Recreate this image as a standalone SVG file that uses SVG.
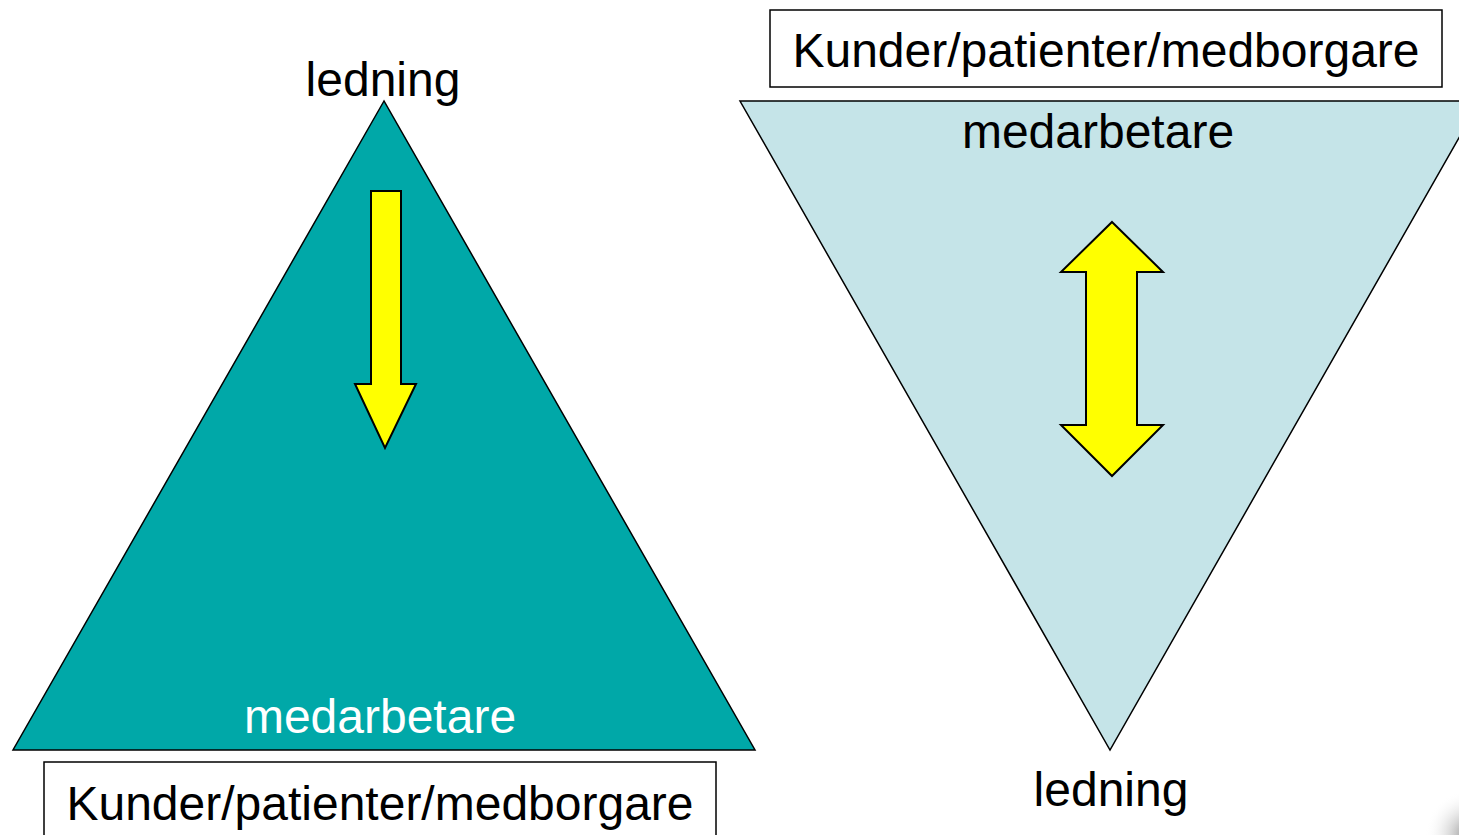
<svg xmlns="http://www.w3.org/2000/svg" width="1459" height="835" viewBox="0 0 1459 835">
<defs>
<style>
.lbl{font-family:"Liberation Sans",Arial,sans-serif;font-size:48px;text-anchor:middle;fill:#000}
.box{fill:#fff;stroke:#000;stroke-width:1.5}
.arrow{fill:#ffff00;stroke:#000;stroke-width:2;stroke-linejoin:miter}
</style>
<radialGradient id="curl" cx="1470" cy="835" r="45" gradientUnits="userSpaceOnUse">
<stop offset="0" stop-color="#888"/>
<stop offset="1" stop-color="#fff" stop-opacity="0"/>
</radialGradient>
</defs>
<rect width="1459" height="835" fill="#fff"/>
<rect x="1410" y="770" width="49" height="65" fill="url(#curl)"/>
<g id="left-pyramid">
<polygon points="384,101 13,750 755,750" fill="#00a8a8" stroke="#000" stroke-width="1.5"/>
<text class="lbl" x="383" y="96">ledning</text>
<text class="lbl" x="380" y="733" style="fill:#fff">medarbetare</text>
</g>
<g id="left-arrow">
<polygon class="arrow" points="371,191 401,191 401,384 416,384 385,448 355,384 371,384"/>
</g>
<g id="left-customers">
<rect class="box" x="44" y="762" width="672" height="80"/>
<text class="lbl" x="380" y="820">Kunder/patienter/medborgare</text>
</g>
<g id="right-pyramid">
<polygon points="740,101 1480,101 1110,750" fill="#c5e4e8" stroke="#000" stroke-width="1.5"/>
<text class="lbl" x="1098" y="148">medarbetare</text>
<text class="lbl" x="1111" y="806">ledning</text>
</g>
<g id="right-arrow">
<polygon class="arrow" points="1112,222 1163,272 1137,272 1137,425 1163,425 1112,476 1061,425 1086,425 1086,272 1061,272"/>
</g>
<g id="right-customers">
<rect class="box" x="770" y="10" width="672" height="77"/>
<text class="lbl" x="1106" y="67">Kunder/patienter/medborgare</text>
</g>
<g id="connectors"></g>
</svg>
